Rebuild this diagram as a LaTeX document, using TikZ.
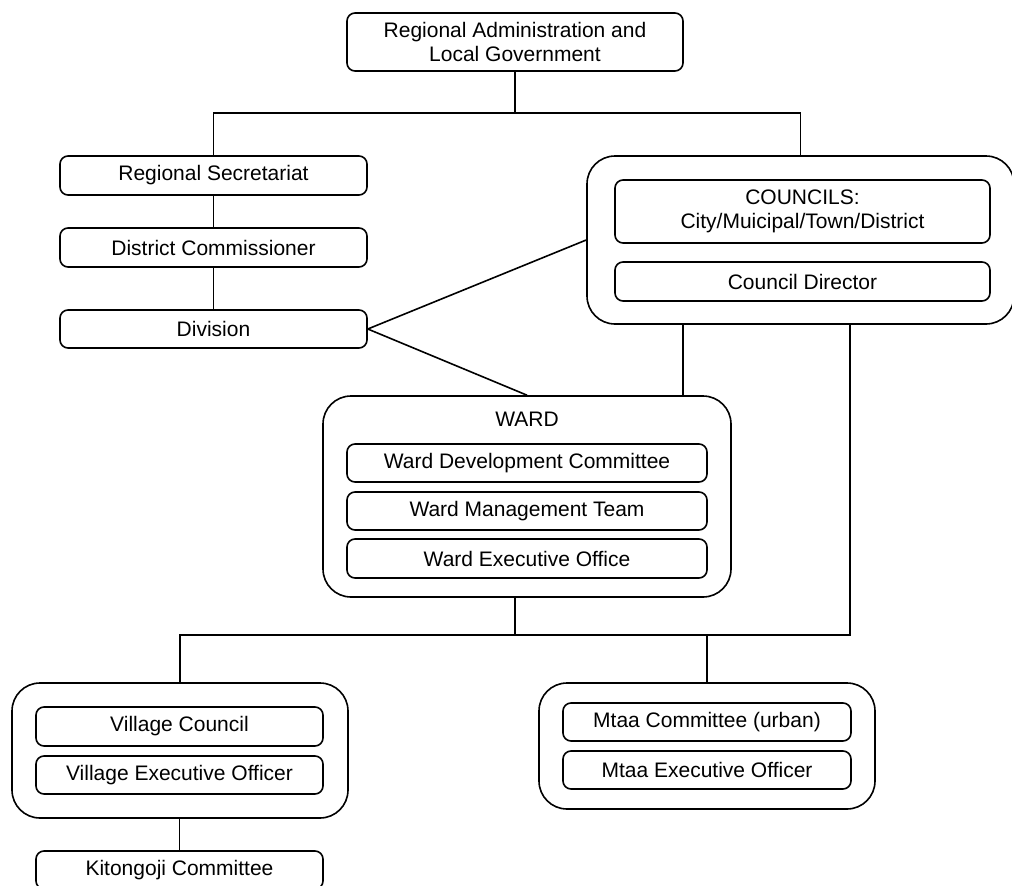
\documentclass[tikz,border=0pt]{standalone}
\usepackage{fontspec}
\setmainfont{Liberation Sans}
\begin{document}
\begin{tikzpicture}[x=1pt,y=-1pt,
  box/.style={draw, line width=1.6pt, rounded corners=8pt, inner sep=0pt, align=center,
    font=\fontsize{21}{24}\selectfont},
  outer/.style={draw, line width=1.6pt, rounded corners=28pt, inner sep=0pt},
  conn/.style={line width=1.6pt}]
\useasboundingbox (0,0) rectangle (1012,886);
% top
\node[box, minimum width=336pt, minimum height=58pt] (top) at (515,42) {Regional Administration and\\Local Government};
% left column
\node[box, minimum width=307pt, minimum height=39pt] (rs) at (213.5,175.5) {Regional Secretariat};
\node[box, minimum width=307pt, minimum height=39pt] (dc) at (213.5,247.5) {District Commissioner};
\node[box, minimum width=307pt, minimum height=38pt] (div) at (213.5,329) {Division};
% councils
\node[outer, minimum width=427pt, minimum height=168pt] (couter) at (800.5,240) {};
\node[box, minimum width=375pt, minimum height=63pt] (cin) at (802.5,211.5) {COUNCILS:\\City/Muicipal/Town/District};
\node[box, minimum width=375pt, minimum height=39pt] (cdir) at (802.5,281.5) {Council Director};
% ward
\node[outer, minimum width=408pt, minimum height=201pt] (ward) at (527,496.5) {};
\node[font=\fontsize{21}{24}\selectfont, inner sep=0pt] (wardlbl) at (527,419) {WARD};
\node[box, minimum width=360pt, minimum height=38pt] (wdc) at (527,463) {Ward Development Committee};
\node[box, minimum width=360pt, minimum height=38pt] (wmt) at (527,511) {Ward Management Team};
\node[box, minimum width=360pt, minimum height=39pt] (weo) at (527,558.5) {Ward Executive Office};
% village
\node[outer, minimum width=336pt, minimum height=135pt] (vouter) at (180,750.5) {};
\node[box, minimum width=287pt, minimum height=39pt] (vc) at (179.5,726.5) {Village Council};
\node[box, minimum width=287pt, minimum height=38pt] (veo) at (179.5,775) {Village Executive Officer};
\node[box, minimum width=287pt, minimum height=38pt] (kit) at (179.5,870) {Kitongoji Committee};
% mtaa
\node[outer, minimum width=336pt, minimum height=126pt] (mouter) at (707,746) {};
\node[box, minimum width=288pt, minimum height=38pt] (mc) at (707,722) {Mtaa Committee (urban)};
\node[box, minimum width=288pt, minimum height=38pt] (meo) at (707,770) {Mtaa Executive Officer};
% helper coordinates
\coordinate (jt) at (515,113);
\coordinate (jb) at (515,635);
\coordinate (xa) at (683,0);
\coordinate (xb) at (850,0);
% connectors
\draw[conn] (top.south) -- (jt);
\draw[conn] (rs.north) |- (jt) -| (couter.north);
\draw[conn] (rs) -- (dc);
\draw[conn] (dc) -- (div);
\draw[conn] (div.east) -- (couter.west);
\draw[conn] (div.east) -- (ward.north);
\draw[conn] (couter.south -| xa) -- (ward.north -| xa);
\draw[conn] (ward.south -| jb) -- (jb);
\draw[conn] (vouter.north) |- (jb) -- (jb -| xb) -- (couter.south -| xb);
\draw[conn] (mouter.north) -- (mouter.north |- jb);
\draw[conn] (kit.north |- vouter.south) -- (kit.north);
\end{tikzpicture}
\end{document}
